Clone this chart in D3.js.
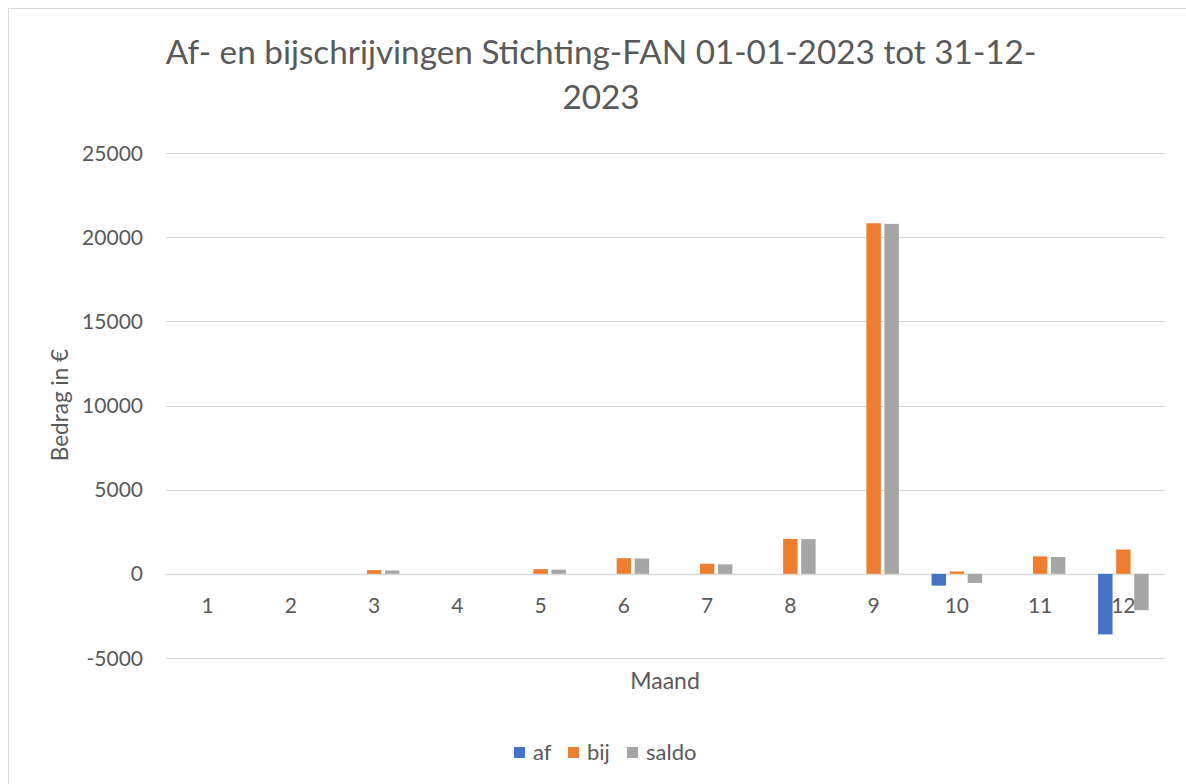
<!DOCTYPE html>
<html>
<head>
<meta charset="utf-8">
<script src="https://cdn.jsdelivr.net/npm/d3@7"></script>
<style>
  body { margin: 0; background: #fff; }
  svg { display: block; font-family: Lato, "Open Sans", sans-serif; }
</style>
</head>
<body>
<svg width="1186" height="784"></svg>
<script>
// data
var months = ["1","2","3","4","5","6","7","8","9","10","11","12"];
var seriesNames = ["af", "bij", "saldo"];
var af    = [0, 0, 0, 0, 0, 0, 0, 0, 0, -700, 0, -3600];
var bij   = [0, 0, 220, 0, 280, 930, 600, 2080, 20830, 140, 1040, 1440];
var saldo = [0, 0, 200, 0, 250, 910, 560, 2060, 20790, -540, 1000, -2160];
var yTicks = [-5000, 0, 5000, 10000, 15000, 20000, 25000];

var colors = { af: "#4472C4", bij: "#ED7D31", saldo: "#A5A5A5" };
var textColor = "#595959";
var gridColor = "#D9D9D9";

var svg = d3.select("svg");

// chart border (only top/left visible)
svg.append("rect")
  .attr("x", 8.5).attr("y", 8.5)
  .attr("width", 1300).attr("height", 900)
  .attr("fill", "#fff")
  .attr("stroke", gridColor)
  .attr("stroke-width", 1);

var plotLeft = 166, plotRight = 1165, plotTop = 153, plotBottom = 658;

var y = d3.scaleLinear()
  .domain([-5000, 25000])
  .range([plotBottom, plotTop]);

var x0 = d3.scaleBand()
  .domain(months)
  .range([plotLeft, plotRight])
  .padding(0);

var groupW = x0.bandwidth() * 0.607;
var x1 = d3.scaleBand()
  .domain(seriesNames)
  .range([0, groupW])
  .paddingInner(0.2);

// gridlines
svg.append("g")
  .selectAll("line")
  .data(yTicks)
  .enter().append("line")
    .attr("x1", plotLeft).attr("x2", plotRight)
    .attr("y1", function(d) { return Math.round(y(d)) + 0.5; })
    .attr("y2", function(d) { return Math.round(y(d)) + 0.5; })
    .attr("stroke", gridColor)
    .attr("stroke-width", function(d) { return d === 0 ? 1.6 : 1.2; });

// y tick labels
svg.append("g")
  .selectAll("text")
  .data(yTicks)
  .enter().append("text")
    .attr("x", 143)
    .attr("y", function(d) { return y(d); })
    .attr("dy", "0.36em")
    .attr("text-anchor", "end")
    .attr("font-size", "21px")
    .attr("fill", textColor)
    .text(function(d) { return d; });

// bars
var rows = months.map(function(m, i) {
  return { month: m, values: [
    { key: "af", value: af[i] },
    { key: "bij", value: bij[i] },
    { key: "saldo", value: saldo[i] }
  ]};
});

var groups = svg.append("g")
  .selectAll("g")
  .data(rows)
  .enter().append("g")
    .attr("transform", function(d) {
      return "translate(" + (x0(d.month) + (x0.bandwidth() - groupW) / 2) + ",0)";
    });

groups.selectAll("rect")
  .data(function(d) { return d.values.filter(function(v) { return v.value !== 0; }); })
  .enter().append("rect")
    .attr("x", function(d) { return x1(d.key); })
    .attr("width", x1.bandwidth())
    .attr("y", function(d) { return y(Math.max(0, d.value)); })
    .attr("height", function(d) { return Math.abs(y(d.value) - y(0)); })
    .attr("fill", function(d) { return colors[d.key]; });

// x category labels (next to the zero axis)
svg.append("g")
  .selectAll("text")
  .data(months)
  .enter().append("text")
    .attr("x", function(d) { return x0(d) + x0.bandwidth() / 2; })
    .attr("y", y(0) + 39)
    .attr("text-anchor", "middle")
    .attr("font-size", "21px")
    .attr("fill", textColor)
    .text(function(d) { return d; });

// title
var title = svg.append("text")
  .attr("x", 601)
  .attr("text-anchor", "middle")
  .attr("font-size", "33.3px")
  .attr("fill", textColor);
title.append("tspan").attr("x", 601).attr("y", 64)
  .text("Af- en bijschrijvingen Stichting-FAN 01-01-2023 tot 31-12-");
title.append("tspan").attr("x", 601).attr("y", 109)
  .text("2023");

// axis titles
svg.append("text")
  .attr("transform", "translate(68,405) rotate(-90)")
  .attr("text-anchor", "middle")
  .attr("font-size", "22.5px")
  .attr("fill", textColor)
  .text("Bedrag in €");

svg.append("text")
  .attr("x", 665)
  .attr("y", 689)
  .attr("text-anchor", "middle")
  .attr("font-size", "23px")
  .attr("fill", textColor)
  .text("Maand");

// legend
var legendX = [514, 568, 627];
var legend = svg.append("g")
  .selectAll("g")
  .data(seriesNames)
  .enter().append("g")
    .attr("transform", function(d, i) { return "translate(" + legendX[i] + ",747)"; });

legend.append("rect")
  .attr("width", 11).attr("height", 11)
  .attr("fill", function(d) { return colors[d]; });

legend.append("text")
  .attr("x", 19)
  .attr("y", 12.5)
  .attr("font-size", "22px")
  .attr("fill", textColor)
  .text(function(d) { return d; });
</script>
</body>
</html>
